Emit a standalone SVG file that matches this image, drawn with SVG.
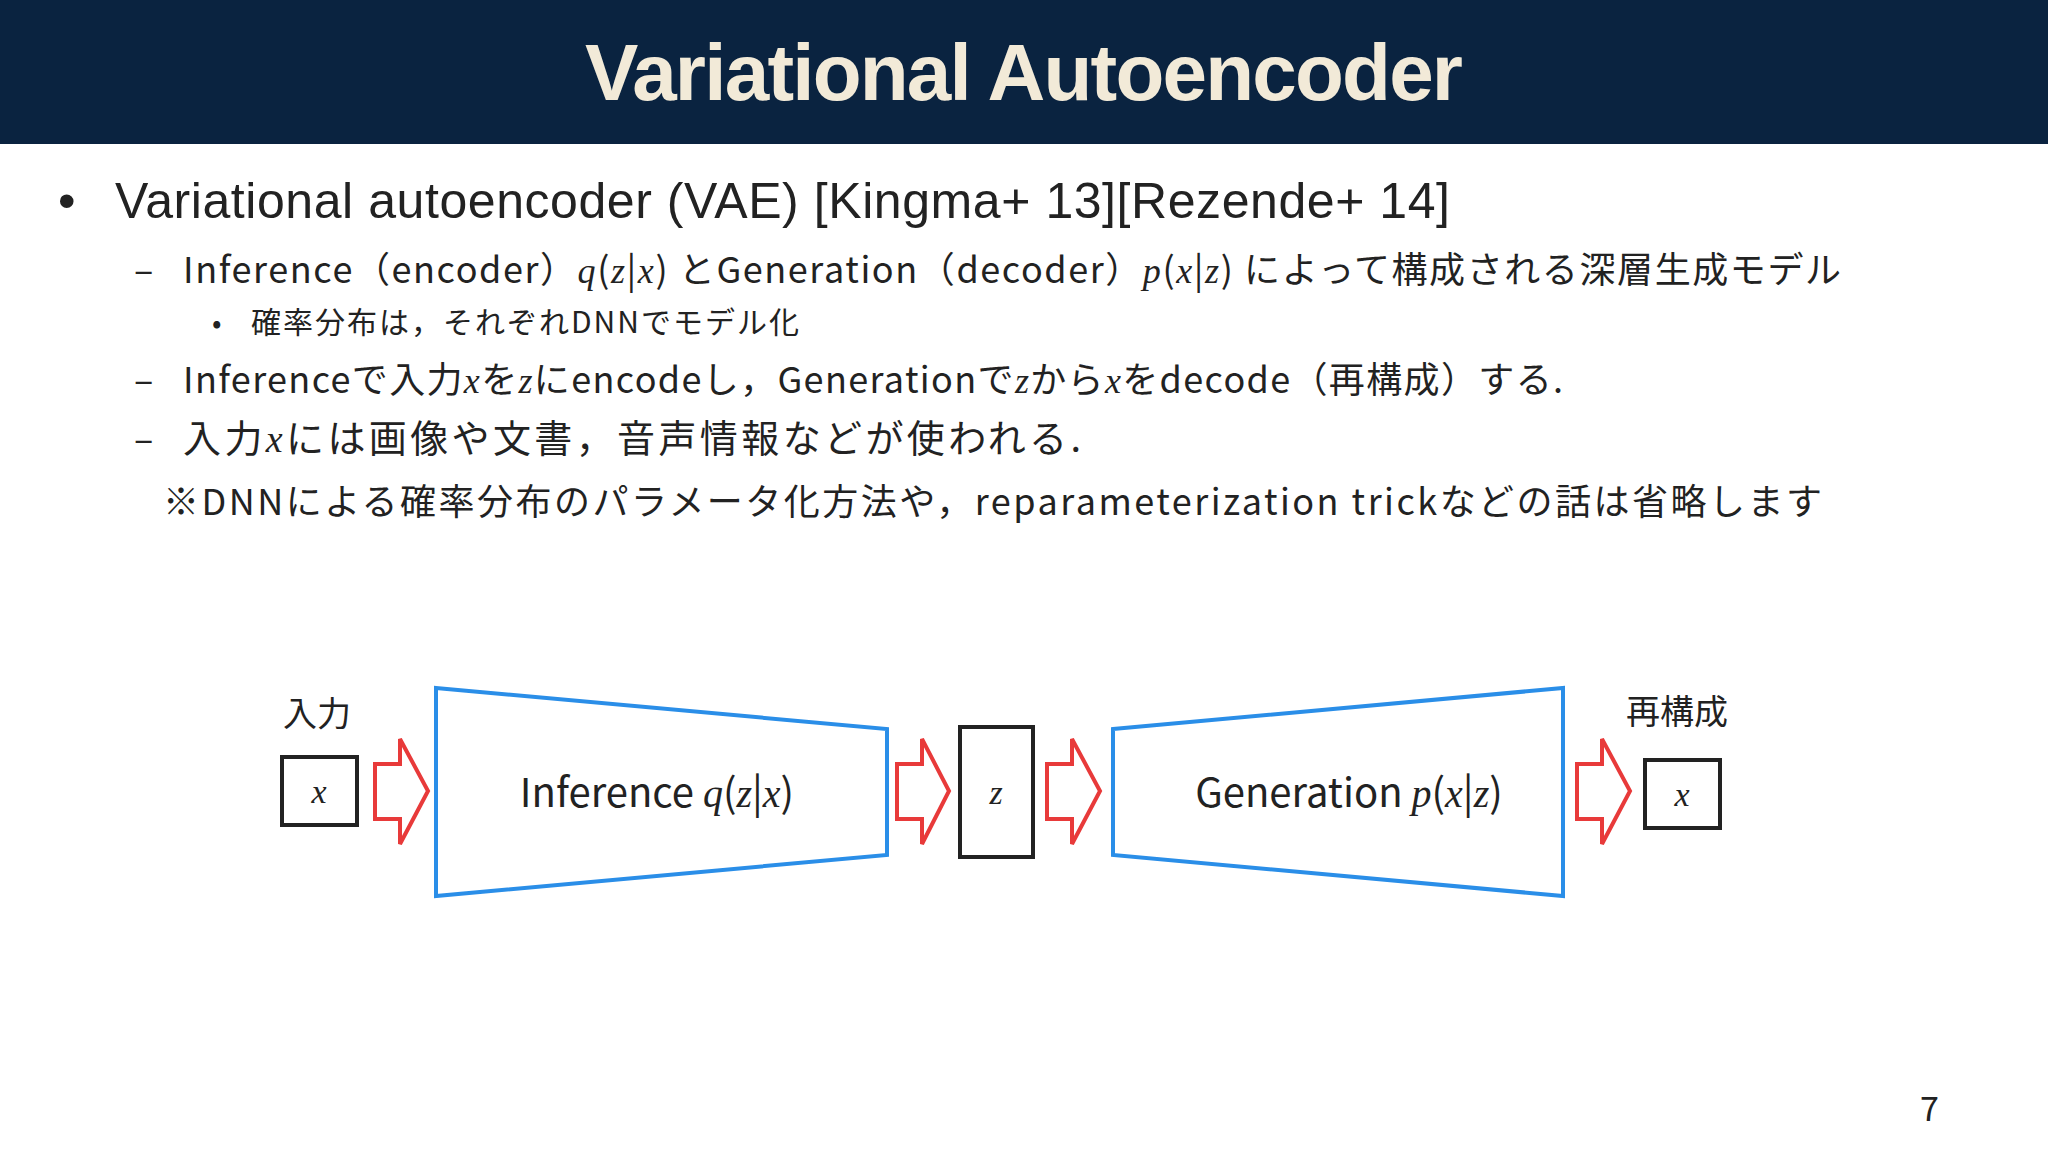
<svg xmlns="http://www.w3.org/2000/svg" width="2048" height="1152" viewBox="0 0 2048 1152">
<style>
.t{font-family:"Noto Sans CJK JP","Liberation Sans",sans-serif;fill:#222}
.m{font-family:"Liberation Serif",serif;font-style:italic}
.ar{fill:#fff;stroke:#e83a3a;stroke-width:4;stroke-linejoin:miter}
.tz{fill:#fff;stroke:#2a8ee8;stroke-width:4}
.bx{fill:#fff;stroke:#222;stroke-width:4}
</style>
<rect width="2048" height="1152" fill="#fff"/>
<g id="header">
<rect width="2048" height="144" fill="#0a2340"/>
<text x="1024" y="100" text-anchor="middle" font-family="Liberation Sans,Arial,sans-serif" font-weight="bold" font-size="80" fill="#f2ead8" textLength="878">Variational Autoencoder</text>
</g>
<g id="body" class="t">
<text x="58" y="218" font-size="50" font-family="Liberation Sans,sans-serif">•</text>
<text x="115" y="218" font-size="50" font-family="Liberation Sans,sans-serif" textLength="1335">Variational autoencoder (VAE) [Kingma+ 13][Rezende+ 14]</text>
<text x="134" y="283" font-size="36">–</text>
<text x="183" y="283" font-size="36" textLength="1658">Inference（encoder）<tspan class="m">q</tspan>(<tspan class="m">z</tspan>|<tspan class="m">x</tspan>) とGeneration（decoder）<tspan class="m">p</tspan>(<tspan class="m">x</tspan>|<tspan class="m">z</tspan>) によって構成される深層生成モデル</text>
<text x="212" y="333" font-size="28">•</text>
<text x="251" y="333" font-size="30" textLength="548">確率分布は，それぞれDNNでモデル化</text>
<text x="134" y="393" font-size="36">–</text>
<text x="183" y="393" font-size="36" textLength="1380">Inferenceで入力<tspan class="m">x</tspan>を<tspan class="m">z</tspan>にencodeし，Generationで<tspan class="m">z</tspan>から<tspan class="m">x</tspan>をdecode（再構成）する.</text>
<text x="134" y="452" font-size="36">–</text>
<text x="183" y="452" font-size="38" textLength="898">入力<tspan class="m">x</tspan>には画像や文書，音声情報などが使われる.</text>
<text x="163" y="515" font-size="36" textLength="1659">※DNNによる確率分布のパラメータ化方法や，reparameterization trickなどの話は省略します</text>
</g>
<g id="connectors">
<polygon class="ar" points="375,764 400,764 400,739 428,791 400,844 400,819 375,819"/>
<polygon class="ar" points="897,764 922,764 922,739 949,791 922,844 922,819 897,819"/>
<polygon class="ar" points="1047,764 1072,764 1072,739 1100,791 1072,844 1072,819 1047,819"/>
<polygon class="ar" points="1577,764 1602,764 1602,739 1630,791 1602,844 1602,819 1577,819"/>
</g>
<g id="input">
<text class="t" x="283" y="726" font-size="34">入力</text>
<rect class="bx" x="282" y="757" width="75" height="68"/>
<text class="m" x="319" y="803" font-size="34" text-anchor="middle" fill="#222">x</text>
</g>
<g id="encoder">
<polygon class="tz" points="436,688 887,729 887,855 436,896"/>
<text class="t" x="657" y="807" font-size="40" text-anchor="middle">Inference <tspan class="m">q</tspan>(<tspan class="m">z</tspan>|<tspan class="m">x</tspan>)</text>
</g>
<g id="latent">
<rect class="bx" x="960" y="727" width="73" height="130"/>
<text class="m" x="996" y="804" font-size="34" text-anchor="middle" fill="#222">z</text>
</g>
<g id="decoder">
<polygon class="tz" points="1113,729 1563,688 1563,896 1113,855"/>
<text class="t" x="1349" y="807" font-size="40" text-anchor="middle">Generation <tspan class="m">p</tspan>(<tspan class="m">x</tspan>|<tspan class="m">z</tspan>)</text>
</g>
<g id="output">
<text class="t" x="1626" y="724" font-size="34">再構成</text>
<rect class="bx" x="1645" y="760" width="75" height="68"/>
<text class="m" x="1682" y="806" font-size="34" text-anchor="middle" fill="#222">x</text>
</g>
<text class="t" x="1920" y="1121" font-size="34" font-family="Liberation Sans,sans-serif">7</text>
</svg>
